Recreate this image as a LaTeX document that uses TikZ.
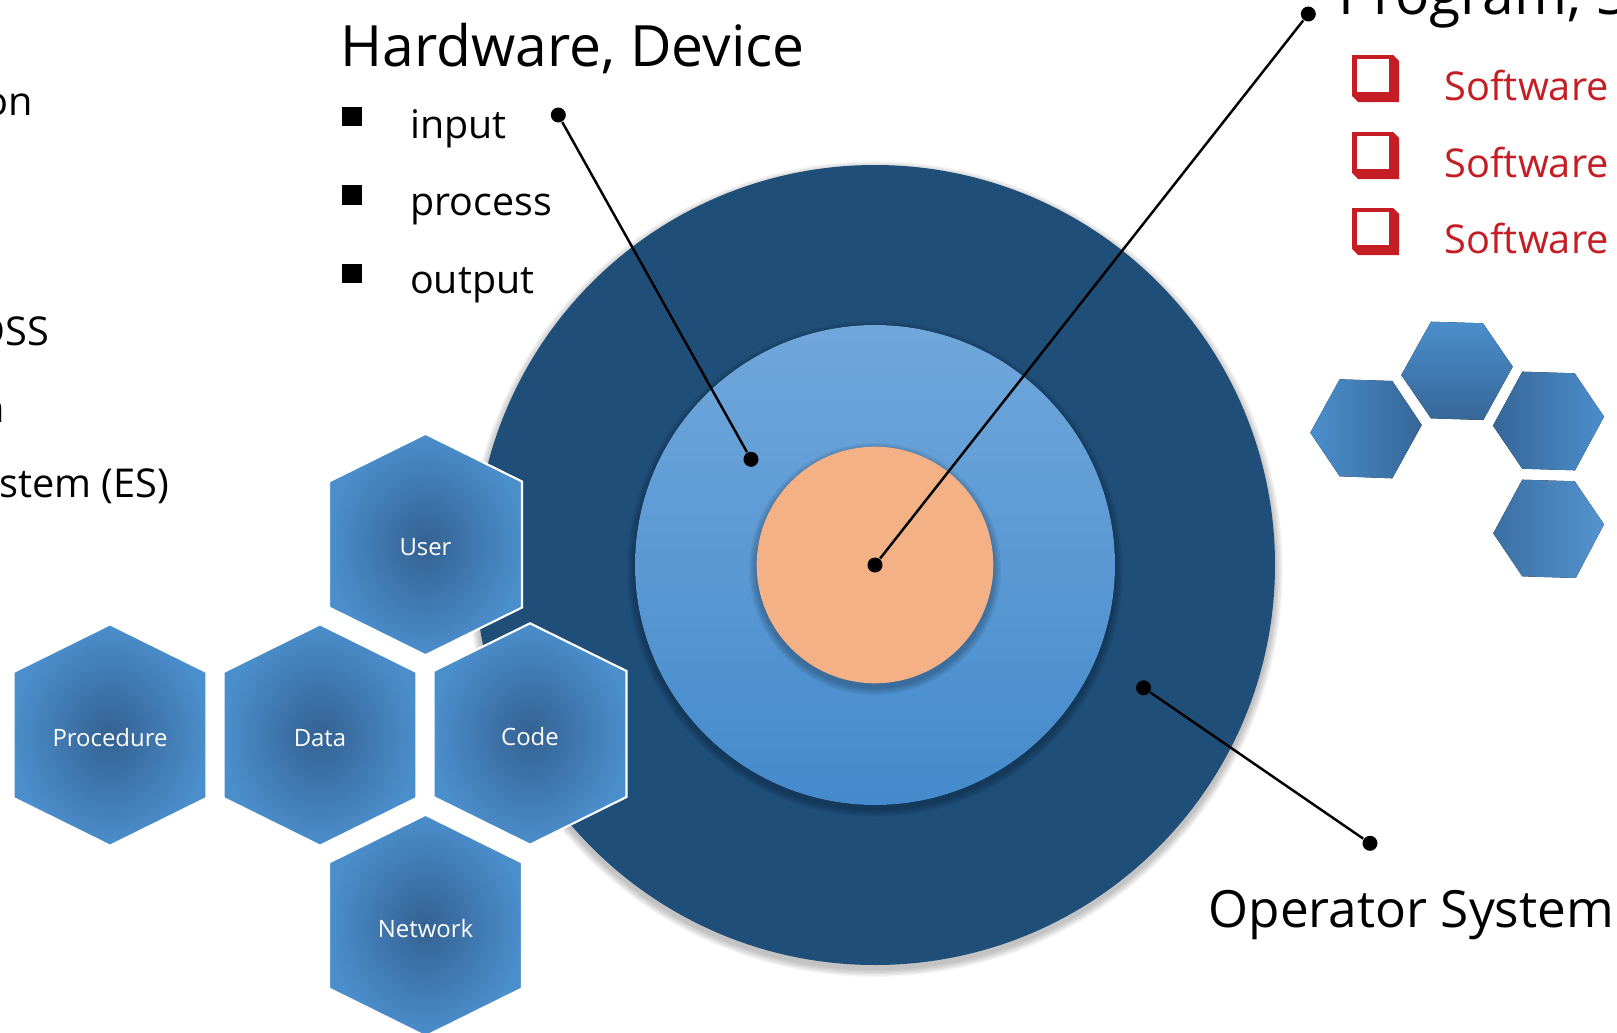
\documentclass[tikz,border=0pt]{standalone}
\usepackage{fontspec}
\setmainfont{Open Sans}
\usetikzlibrary{positioning}
\definecolor{ringdark}{RGB}{31,78,121}
\definecolor{ringtop}{RGB}{112,167,219}
\definecolor{ringbottom}{RGB}{68,138,204}
\definecolor{corefill}{RGB}{243,177,133}
\definecolor{hexlight}{RGB}{75,142,204}
\definecolor{hexdark}{RGB}{52,98,146}
\definecolor{swred}{RGB}{196,30,36}
\tikzset{
dot/.style={circle, fill=black, inner sep=0pt, minimum size=1.5mm}, % ends of the pointer lines
pointer/.style={line width=0.7pt},
heading/.style={font=\fontsize{16.2}{19}\selectfont, anchor=base west, inner sep=0pt},
item/.style={font=\fontsize{11.2}{13}\selectfont, anchor=base west, inner sep=0pt},
sidetext/.style={font=\fontsize{11.3}{13}\selectfont, anchor=base east, inner sep=0pt},
swtext/.style={font=\fontsize{11.3}{13}\selectfont, text=swred, anchor=base west, inner sep=0pt},
bulletbox/.style={fill=black, minimum size=1.94mm, inner sep=0pt},
hexlabel/.style={text=white, font=\fontsize{6.8}{8}\selectfont, yshift=-0.3mm},
cellhex/.style={inner color=hexdark, outer color=hexlight, draw=white, line width=0.6pt},
pics/cell/.style={code={
  \path[cellhex] (0,-110.7) -- (96.5,-63) -- (96.5,63) -- (0,110.7) -- (-96.5,63) -- (-96.5,-63) -- cycle;
}},
pics/swbox/.style={code={
  \fill[swred] (0,0) -- (41,0) -- (47,6) -- (47,47) -- (6,47) -- (0,41) -- cycle;
  \fill[white] (5,4) rectangle (37,37);
}},
}
% soft shadow under a disc: radius
\newcommand{\discshadow}[1]{
  \foreach \k in {1,...,6}
    \fill[black, opacity=0.045] (875,569) circle ({#1+1.3*\k});
}

\begin{document}
\begin{tikzpicture}[x=0.01cm, y=-0.01cm]
    \useasboundingbox (0,0) rectangle (1617,1033);
    \clip (0,0) rectangle (1617,1033);

    % the three rings
    \discshadow{400}
    \fill[ringdark] (875,565) circle (400);
    \discshadow{240}
    \fill[top color=ringtop, bottom color=ringbottom] (875,565) circle (240);
    \discshadow{118.3}
    \fill[corefill] (875,565) circle (118.3);

    % left text, cut by the slide edge
    \node[sidetext] (side1) at (33.5,115) {on};
    \node[sidetext] (side2) at (50,345) {DSS};
    \node[sidetext] (side3) at (6,422) {n};
    \node[sidetext] (side4) at (170,497) {stem (ES)};

    % hardware
    \node[heading] (hw) at (340,66.7) {Hardware, Device};
    \node[bulletbox] (sq1) at (352,116.7) {};
    \node[bulletbox, below=5.76mm of sq1] (sq2) {};
    \node[bulletbox, below=5.76mm of sq2] (sq3) {};
    \node[item] (input) at (409.5,138.3) {input};
    \node[item] (process) at (409.5,215) {process};
    \node[item] (output) at (409.5,293.3) {output};

    % program, software
    \node[heading] (prog) at (1338,14) {Program, Software};
    \foreach \y [count=\i] in {55,132,208} {
      \pic at (1352,\y) {swbox};
      \node[swtext] (sw\i) at (1444,\y+45) {Software};
    }

    % operator
    \node[heading, font=\fontsize{14.6}{17}\selectfont] (os) at (1208,927) {Operator System};

    % pointers
    \node[dot] (hwtip) at (558.3,115) {};
    \node[dot] (hwring) at (751,459.3) {};
    \draw[pointer] (hwtip) -- (hwring);
    \node[dot] (coretip) at (875,565) {};
    \node[dot] (progtip) at (1308.3,14) {};
    \draw[pointer] (coretip) -- (progtip);
    \node[dot] (osring) at (1143.6,687.8) {};
    \node[dot] (ostip) at (1370,843.3) {};
    \draw[pointer] (osring) -- (ostip);

    % five cells
    \pic at (425.5,544.5) {cell};
    \pic at (110,735) {cell};
    \pic at (320,735) {cell};
    \pic at (530,734) {cell};
    \pic at (425.5,925.5) {cell};
    \node[hexlabel] (user) at (425.5,544.5) {User};
    \node[hexlabel] (procedure) at (110,735) {Procedure};
    \node[hexlabel] (data) at (320,735) {Data};
    \node[hexlabel] (code) at (530,734) {Code};
    \node[hexlabel] (network) at (425.5,925.5) {Network};

    % small cells on the right
    \fill[left color=hexlight, right color=hexdark!90!hexlight] (1310.3,432.7) -- (1339.7,379.3) -- (1392.3,381) -- (1421.7,425) -- (1392.3,478.3) -- (1339.7,476.3) -- cycle;
    \fill[top color=hexlight, bottom color=hexdark!90!hexlight] (1401.3,375) -- (1431,321.7) -- (1483,323.3) -- (1512.7,366.7) -- (1483.3,420) -- (1431,418.3) -- cycle;
    \fill[left color=hexdark!90!hexlight, right color=hexlight] (1493,425.7) -- (1522.3,371.7) -- (1574.7,373.3) -- (1604,416.7) -- (1575,470.3) -- (1522.3,468.7) -- cycle;
    \fill[left color=hexdark!70!hexlight, right color=hexlight!95!white] (1493.3,533.3) -- (1522.3,479.7) -- (1574.7,481.3) -- (1604,524.3) -- (1575.7,578) -- (1522.3,576.3) -- cycle;
\end{tikzpicture}
\end{document}
